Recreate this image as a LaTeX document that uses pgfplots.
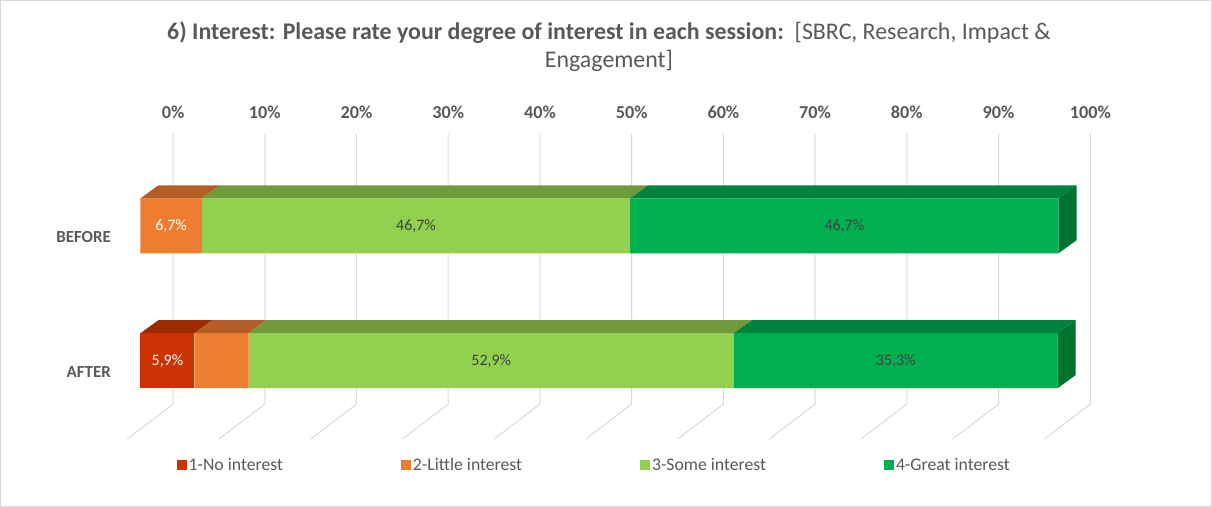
\documentclass[border=0pt]{standalone}
\usepackage{pgfplots}
\pgfplotsset{compat=1.18}
\usepackage{fontspec}
\setmainfont{Carlito}
\definecolor{txt}{HTML}{595959}
\definecolor{lbl}{HTML}{404040}
\definecolor{gridc}{HTML}{D9D9D9}
\definecolor{noF}{HTML}{CC3300}
\definecolor{noT}{HTML}{9E2A00}
\definecolor{litF}{HTML}{ED7D31}
\definecolor{litT}{HTML}{B45E26}
\definecolor{somF}{HTML}{92D050}
\definecolor{somT}{HTML}{6F9B3D}
\definecolor{grtF}{HTML}{00B050}
\definecolor{grtT}{HTML}{00843C}
\definecolor{grtS}{HTML}{00722F}
\pgfplotsset{
  base/.style={at={(0,0)}, anchor=south west, x=9.18bp, y=1bp, y dir=reverse,
    ymin=0, ymax=506, enlargelimits=false, clip=false},
  leg/.style={legend image code/.code={\fill[##1] (0bp,-5bp) rectangle (10bp,5bp);}},
}
\begin{document}
\begin{tikzpicture}
% grid axis (back wall), shifted by the 3D depth
\begin{axis}[base, xmin=-18.812, xmax=113.218, hide axis]
\pgfplotsinvokeforeach{0,10,...,100}{
  \draw[gridc, line width=1bp] (axis cs:#1,133) -- (axis cs:#1,404) -- ++(-46bp,-35bp);
  \node[font=\fontsize{18.3}{20}\selectfont\bfseries, text=txt] at (axis cs:#1,112) {#1\%};
}
\end{axis}
% front faces of the bars
\begin{axis}[base, xmin=-15.25, xmax=116.78,
  xbar stacked, bar width=55,
  axis line style={gridc, line width=1bp},
  xtick=\empty, ytick={237,372}, yticklabels={BEFORE,AFTER},
  major tick length=0pt,
  yticklabel style={anchor=east, xshift=114bp, font=\fontsize{17}{19}\selectfont\bfseries, text=txt},
  legend columns=4,
  legend style={at={(0.1453,0.081)}, anchor=west, draw=none, fill=none, inner sep=0pt,
    font=\fontsize{17.8}{19}\selectfont, text=txt,
    nodes={inner xsep=1bp, inner ysep=0pt},
    /tikz/every odd column/.append style={column sep=1bp},
    /tikz/every even column/.append style={column sep=117bp}},
  legend cell align=left,
]
\addplot[fill=noF, draw=none, leg] coordinates {(0,225.5) (5.9,360.5)};
\addplot[fill=litF, draw=none, leg] coordinates {(6.7,225.5) (5.9,360.5)};
\addplot[fill=somF, draw=none, leg] coordinates {(46.7,225.5) (52.9,360.5)};
\addplot[fill=grtF, draw=none, leg] coordinates {(46.7,225.5) (35.3,360.5)};
\legend{1-No interest, 2-Little interest, 3-Some interest, 4-Great interest}
\node[align=center, font=\fontsize{24}{28}\selectfont, text=txt] at (axis cs:51.09,46)
  {\textbf{6) Interest: Please rate your degree of interest in each session:}\ \ [SBRC, Research, Impact \&\\Engagement]};
\end{axis}
% 3D faces and data labels
\begin{axis}[base, xmin=-15.25, xmax=116.78, hide axis]
% BEFORE top faces
\addplot[fill=litT, draw=none] coordinates {(0,198) (6.7,198) (8.661,185) (1.961,185)} -- cycle;
\addplot[fill=somT, draw=none] coordinates {(6.7,198) (53.4,198) (55.361,185) (8.661,185)} -- cycle;
\addplot[fill=grtT, draw=none] coordinates {(53.4,198) (100.1,198) (102.061,185) (55.361,185)} -- cycle;
\addplot[fill=grtS, draw=none] coordinates {(100.1,198) (102.061,185) (102.061,240) (100.1,253)} -- cycle;
% AFTER top faces
\addplot[fill=noT, draw=none] coordinates {(0,333) (5.9,333) (7.861,320) (1.961,320)} -- cycle;
\addplot[fill=litT, draw=none] coordinates {(5.9,333) (11.8,333) (13.761,320) (7.861,320)} -- cycle;
\addplot[fill=somT, draw=none] coordinates {(11.8,333) (64.7,333) (66.661,320) (13.761,320)} -- cycle;
\addplot[fill=grtT, draw=none] coordinates {(64.7,333) (100,333) (101.961,320) (66.661,320)} -- cycle;
\addplot[fill=grtS, draw=none] coordinates {(100,333) (101.961,320) (101.961,375) (100,388)} -- cycle;
% data labels
\addplot[draw=none, no markers, nodes near coords, point meta=explicit symbolic,
  nodes near coords style={anchor=center, font=\fontsize{16}{18}\selectfont, text=white}]
  coordinates {(3.35,225.5) [{6,7\%}] (2.95,360.5) [{5,9\%}]};
\addplot[draw=none, no markers, nodes near coords, point meta=explicit symbolic,
  nodes near coords style={anchor=center, font=\fontsize{16}{18}\selectfont, text=lbl}]
  coordinates {(30.05,225.5) [{46,7\%}] (76.75,225.5) [{46,7\%}] (38.25,360.5) [{52,9\%}] (82.35,360.5) [{35,3\%}]};
\end{axis}
\end{tikzpicture}
\end{document}
